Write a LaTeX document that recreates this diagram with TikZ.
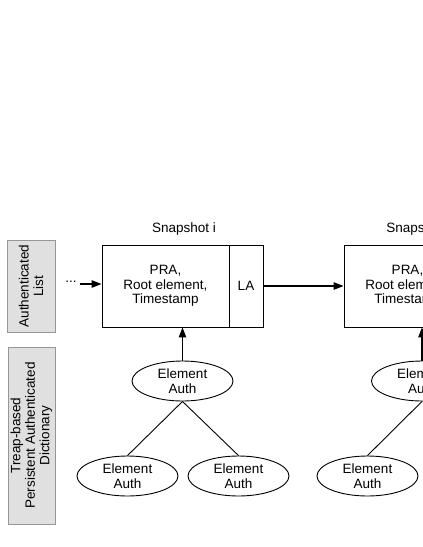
\documentclass[tikz,border=0pt]{standalone}
\usepackage{fontspec}
\setmainfont{Liberation Sans}
\usetikzlibrary{arrows.meta,shapes.geometric}
\definecolor{panelfill}{RGB}{224,224,224}
\definecolor{paneldraw}{RGB}{150,150,150}
\begin{document}
\begin{tikzpicture}[x=1pt,y=-1pt,
  every node/.style={font=\fontsize{13.5}{14.5}\selectfont, inner sep=0pt},
  panel/.style={draw=paneldraw, fill=panelfill, line width=0.8pt, rotate=90, align=center},
  snapbox/.style={draw, line width=0.9pt, minimum width=127pt, minimum height=82pt, align=center},
  labox/.style={draw, line width=0.9pt, minimum width=34pt, minimum height=82pt},
  auth/.style={draw, ellipse, line width=0.9pt, minimum width=101pt, minimum height=40pt, align=center},
  arr/.style={line width=1.1pt, -{Triangle[length=10pt,width=7.5pt]}},
  edge/.style={line width=0.9pt}]
\clip (0,0) rectangle (423,547);
% side panels
\node[panel, minimum width=92pt, minimum height=48pt] (p1) at (31,286) {Authenticated\\List};
\node[panel, minimum width=177pt, minimum height=47pt] (p2) at (31.5,435.5) {Treap-based\\Persistent Authenticated\\Dictionary};
% snapshot i
\node[snapbox] (s1) at (165.5,286) {PRA,\\Root element,\\Timestamp};
\node[labox] (la1) at (246,286) {LA};
\node (t1) at (184,229) {Snapshot i};
\node (dots) at (71,282) {...};
% snapshot i+1
\node[snapbox] (s2) at (407.5,286) {PRA,\\Root element,\\Timestamp};
\node (t2) at (426,229) {Snapshot i+1};
% arrows between snapshots
\draw[arr] (dots.east) ++(3,2) coordinate (d0) -- (d0 -| s1.west);
\draw[arr] (la1.east) -- (s2.west);
% tree i
\node[auth] (e1) at (182.5,381) {Element\\Auth};
\node[auth] (e1l) at (127.5,476) {Element\\Auth};
\node[auth] (e1r) at (238.5,476) {Element\\Auth};
\draw[arr] (e1.north) -- (e1.north |- s1.south);
\draw[edge] (e1.south) -- (e1l.north);
\draw[edge] (e1.south) -- (e1r.north);
% tree i+1
\node[auth] (e2) at (422,381) {Element\\Auth};
\node[auth] (e2l) at (367.5,476) {Element\\Auth};
\draw[arr] (e2.north) -- (e2.north |- s2.south);
\draw[edge] (e2.south) -- (e2l.north);
\end{tikzpicture}
\end{document}
